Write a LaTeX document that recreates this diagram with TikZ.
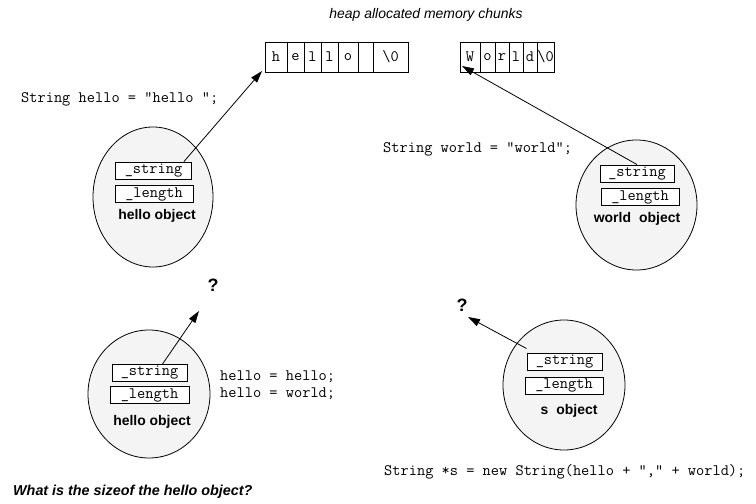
\documentclass[tikz,border=0pt]{standalone}
\usepackage{fontspec}
\setmainfont{Liberation Sans}
\usetikzlibrary{arrows.meta,shapes.geometric}

\definecolor{objfill}{HTML}{F4F4F4}

\newcommand{\codefont}{\ttfamily\fontsize{16}{18}\selectfont}

\tikzset{
  code/.style={font=\codefont, inner sep=0, anchor=west},
  obj/.style={draw, ellipse, fill=objfill, line width=0.8bp, inner sep=0},
  field/.style={draw, fill=white, line width=0.9bp, inner sep=0,
    minimum width=76bp, minimum height=17bp, font=\codefont},
  objname/.style={font=\bfseries\fontsize{14}{16}\selectfont, inner sep=0},
  cell/.style={draw, line width=0.8bp, inner sep=0, outer sep=0,
    minimum height=30bp, font=\codefont},
  ptr/.style={line width=0.8bp, -{Triangle[length=12bp,width=7.5bp]}},
  qmark/.style={font=\bfseries\fontsize{18}{20}\selectfont, inner sep=0}
}

\begin{document}
\begin{tikzpicture}[x=1bp,y=-1bp]
\useasboundingbox (0,0) rectangle (756,504);

% caption over the heap
\node[font=\itshape\fontsize{14}{16}\selectfont, inner sep=0] (heap) at (426,15) {heap allocated memory chunks};

% heap chunk holding "hello "
\node[cell, minimum width=22bp, anchor=north west] (h1) at (265,42) {h};
\node[cell, minimum width=17bp, anchor=west] (h2) at (h1.east) {e};
\node[cell, minimum width=17bp, anchor=west] (h3) at (h2.east) {l};
\node[cell, minimum width=17bp, anchor=west] (h4) at (h3.east) {l};
\node[cell, minimum width=20bp, anchor=west] (h5) at (h4.east) {o};
\node[cell, minimum width=15bp, anchor=west] (h6) at (h5.east) {};
\node[cell, minimum width=35bp, anchor=west] (h7) at (h6.east) {\textbackslash0};

% heap chunk holding "World"
\node[cell, minimum width=20bp, anchor=north west] (w1) at (460,42) {W};
\node[cell, minimum width=15bp, anchor=west] (w2) at (w1.east) {o};
\node[cell, minimum width=14bp, anchor=west] (w3) at (w2.east) {r};
\node[cell, minimum width=14bp, anchor=west] (w4) at (w3.east) {l};
\node[cell, minimum width=14bp, anchor=west] (w5) at (w4.east) {d};
\node[cell, minimum width=17bp, anchor=west] (w6) at (w5.east) {\textbackslash0};

% hello object
\node[obj, minimum width=120bp, minimum height=140bp] (ohello) at (153,197) {};
\node[field] (shello) at (153.5,170.5) {\_string};
\node[field, minimum width=78bp] (lhello) at (154,194) {\_length};
\node[objname] (nhello) at (157,216) {hello object};
\node[code] (dhello) at (21,99) {String hello = “hello ”;};

% world object
\node[obj, minimum width=121bp, minimum height=130bp] (oworld) at (636.5,205) {};
\node[field, minimum width=74bp] (sworld) at (637,173.5) {\_string};
\node[field, minimum width=78bp] (lworld) at (640,197) {\_length};
\node[objname] (nworld) at (637,219) {world\hspace{0.3em} object};
\node[code] (dworld) at (383,149) {String world = “world”;};

% hello object after reassignment
\node[obj, minimum width=122bp, minimum height=128bp] (ohello2) at (149,394) {};
\node[field, minimum width=75bp] (shello2) at (149.5,373) {\_string};
\node[field, minimum width=79bp] (lhello2) at (149.5,395) {\_length};
\node[objname] (nhello2) at (152,422) {hello object};
\node[code] (ahello) at (220,377) {hello = hello;};
\node[code] (bhello) at (220,394) {hello = world;};
\coordinate (t3) at (199,311);
\node[qmark] (q3) at (213,285) {?};

% s object
\node[obj, minimum width=122bp, minimum height=130bp] (os) at (564,385) {};
\node[field, minimum width=75bp] (ss) at (564.5,361.5) {\_string};
\node[field, minimum width=78bp] (ls) at (564,385.5) {\_length};
\node[objname] (ns) at (569,411) {s\hspace{0.3em} object};
\node[code] (ds) at (384,472) {String *s = new String(hello + “,” + world);};
\coordinate (t4) at (468,317);
\node[qmark] (q4) at (462,305) {?};

% question at the bottom
\node[font=\bfseries\itshape\fontsize{14.4}{16}\selectfont, inner sep=0, anchor=west] (question) at (13,492) {What is the sizeof the hello object?};

% pointers
\draw[ptr] ([xshift=-8bp]shello.north east) -- ([shift={(-3bp,1bp)}]h1.south west);
\draw[ptr] (sworld.north) -- ([shift={(2bp,6bp)}]w1.south west);
\draw[ptr] ([xshift=13bp]shello2.north) -- (t3);
\draw[ptr] ([yshift=4bp]ss.north west) -- (t4);
\end{tikzpicture}
\end{document}
